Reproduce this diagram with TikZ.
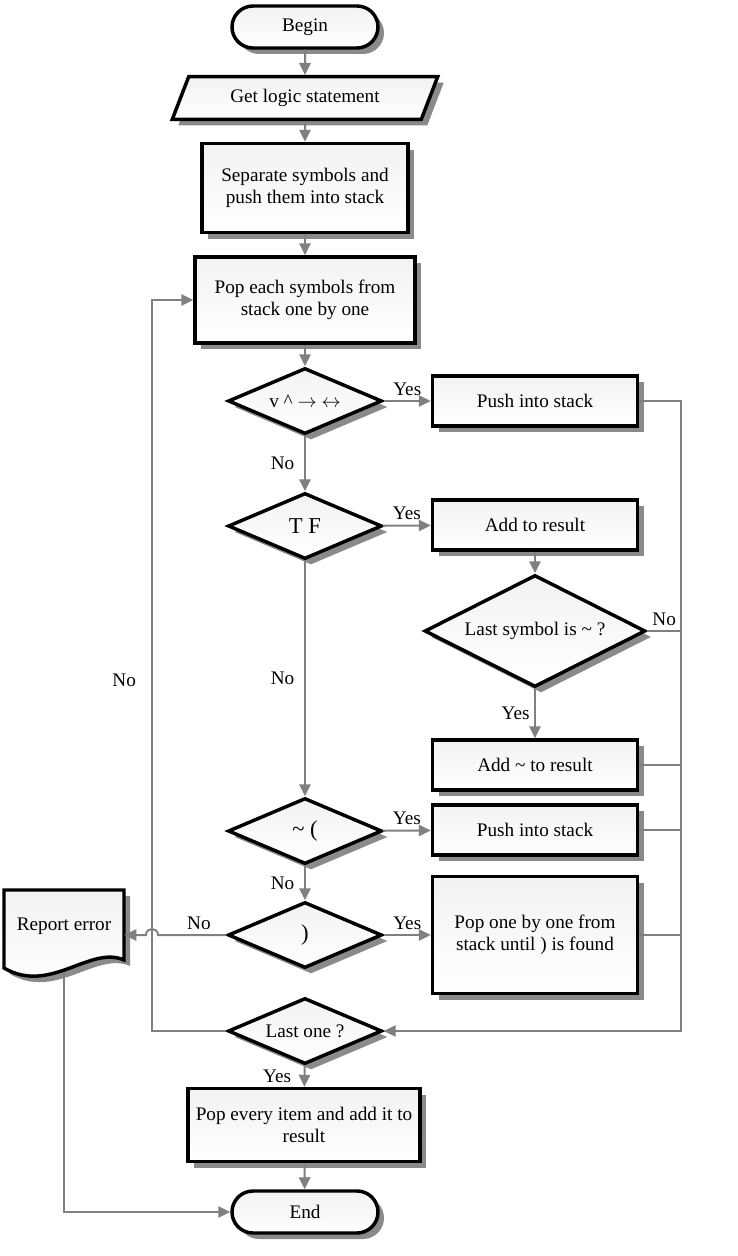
\documentclass[tikz,border=0pt]{standalone}
\usepackage{fontspec}
\setmainfont{Liberation Serif}
\usetikzlibrary{shapes.geometric,shadows,arrows.meta}
\definecolor{linegray}{RGB}{128,128,128}
\definecolor{shadowgray}{RGB}{138,138,138}

\begin{document}
\begin{tikzpicture}[x=0.75pt,y=-0.75pt,
  font=\fontsize{14.4}{16.5}\selectfont,
  block/.style={draw=black,line width=2.6pt,top color=gray!10,bottom color=white,
    drop shadow={shadow xshift=4.5pt,shadow yshift=-4.5pt,fill=shadowgray,opacity=1}},
  proc/.style={block,rectangle,align=center},
  rbox/.style={proc,minimum width=153.75pt,minimum height=37.5pt},
  term/.style={block,rectangle,rounded corners=15.75pt,minimum width=109.5pt,minimum height=31.5pt},
  io/.style={block,trapezium,trapezium left angle=67,trapezium right angle=113,
    trapezium stretches=true,minimum width=199.5pt,minimum height=32pt},
  test/.style={block,diamond,aspect=2.3,inner sep=0pt,minimum width=115.5pt,minimum height=49.5pt},
  bigsym/.style={font=\fontsize{17}{19}\selectfont},
  flow/.style={draw=linegray,line width=1.5pt,-{Triangle[length=9pt,width=8.5pt]}},
  wire/.style={draw=linegray,line width=1.5pt}]
  \useasboundingbox (0,0) rectangle (738,1256);

  % main column
  \node[term] (begin) at (305,27) {Begin};
  \node[io] (get) at (305,98) {Get logic statement};
  \node[proc,minimum width=154.5pt,minimum height=66.75pt] (sep) at (305,188) {Separate symbols and\\push them into stack};
  \node[proc,minimum width=165pt,minimum height=64.5pt] (pop) at (305,300) {Pop each symbols from\\stack one by one};
  \node[test] (ops) at (305,401) {v \textasciicircum{} $\rightarrow$ $\leftrightarrow$};
  \node[test,bigsym] (tf) at (305,526) {T F};
  \node[test,bigsym] (open) at (305,831) {\textasciitilde{} (};
  \node[test,bigsym] (close) at (305,935) {)};
  \node[test] (lastone) at (305,1031) {Last one ?};
  \node[proc,minimum width=174pt,minimum height=54.75pt] (popall) at (304,1125) {Pop every item and add it to\\result};
  \node[term] (end) at (305,1212) {End};

  % right column
  \node[rbox] (pushA) at (535,401) {Push into stack};
  \node[rbox] (add) at (535,525) {Add to result};
  \node[test,aspect=2,minimum width=165.75pt,minimum height=84pt] (last) at (535,631) {Last symbol is \textasciitilde{} ?};
  \node[rbox] (addnot) at (535,765) {Add \textasciitilde{} to result};
  \node[rbox] (pushB) at (535,830) {Push into stack};
  \node[proc,minimum width=153.75pt,minimum height=87.75pt] (popuntil) at (535,935) {Pop one by one from\\stack until ) is found};

  % report error
  \draw[block] (4,890) -- (124,890) -- (124,960) .. controls (90,945) and (50,995) .. (4,968) -- cycle;
  \node[minimum width=90pt,inner sep=0pt] (err) at (64,926) {Report error};

  \coordinate (rbus) at (681,1031);
  \coordinate (lbus) at (152,1031);
  \coordinate (errfoot) at (64,972);

  \draw[flow] (begin) -- (get);
  \draw[flow] (get) -- (sep);
  \draw[flow] (sep) -- (pop);
  \draw[flow] (pop) -- (ops);
  \draw[flow] (ops) -- node[above]{Yes} (pushA);
  \draw[flow] (ops) -- node[left=4pt]{No} (tf);
  \draw[flow] (tf) -- node[above]{Yes} (add);
  \draw[flow] (add) -- (last);
  \draw[flow] (last) -- node[left]{Yes} (addnot);
  \draw[flow] (tf) -- node[left=4pt]{No} (open);
  \draw[flow] (open) -- node[above]{Yes} (pushB);
  \draw[flow] (open) -- node[left=4pt]{No} (close);
  \draw[flow] (close) -- node[above]{Yes} (popuntil);
  \draw[flow] (close.west) -- node[above,pos=0.4]{No} (158,935)
    .. controls (158,927) and (146,927) .. (146,935) -- (err.east |- close.west);

  \draw[flow] (pushA.east) -| (rbus) -- (lastone.east);
  \draw[wire] (last.east) -- node[above]{No} (last.east -| rbus);
  \foreach \n in {addnot,pushB,popuntil}
    \draw[wire] (\n.east) -- (\n.east -| rbus);

  \draw[flow] (lastone.west) -- (lbus) |- node[left=8pt,pos=0.24]{No} (pop.west);
  \draw[flow] (lastone) -- node[left=6pt]{Yes} (popall);
  \draw[flow] (popall) -- (end);
  \draw[flow] (errfoot) |- (end.west);
\end{tikzpicture}
\end{document}
